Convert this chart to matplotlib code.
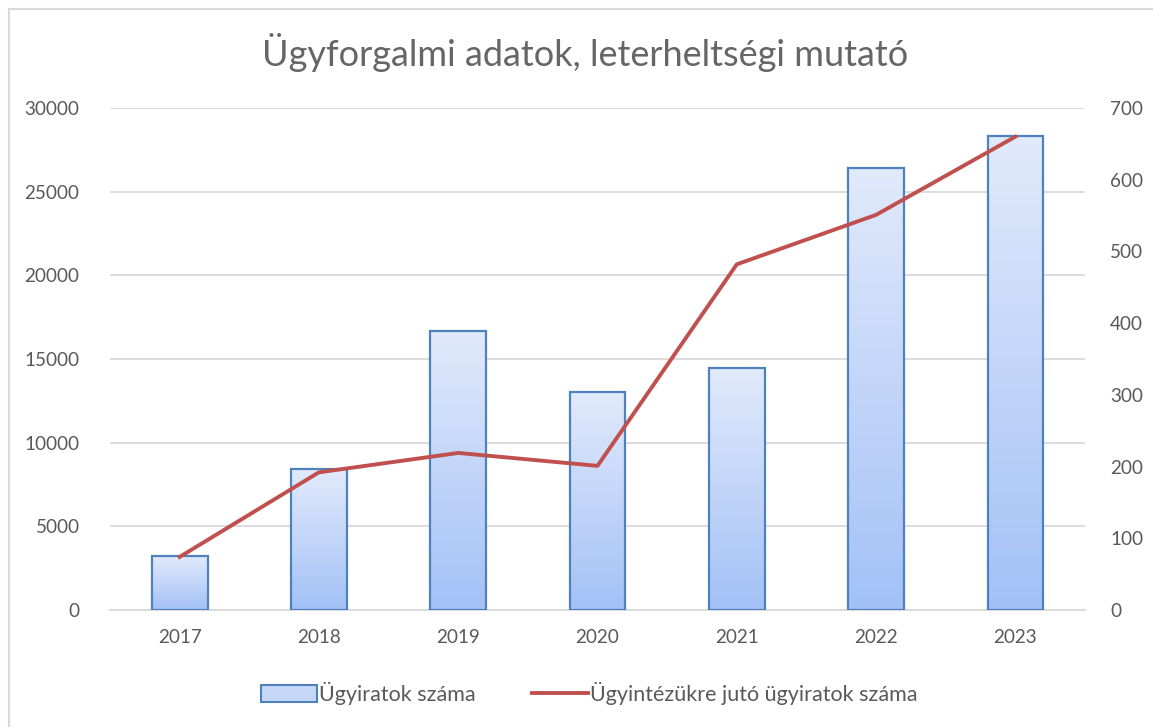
import matplotlib
matplotlib.use("Agg")
import matplotlib.pyplot as plt
import numpy as np
from matplotlib.patches import Rectangle
from matplotlib.lines import Line2D
from matplotlib.colors import LinearSegmentedColormap

years = ["2017", "2018", "2019", "2020", "2021", "2022", "2023"]
ugyiratok = [3200, 8400, 16650, 13000, 14450, 26400, 28300]
per_ugyintezo = [74, 192, 219, 201, 482, 551, 660]
left_ticks = [0, 5000, 10000, 15000, 20000, 25000, 30000]
right_ticks = [0, 100, 200, 300, 400, 500, 600, 700]

plt.rcParams['font.family'] = ['Lato', 'DejaVu Sans']
W, H = 1153, 727
fig = plt.figure(figsize=(W / 100, H / 100), dpi=100)
fig.patch.set_facecolor("white")

# chart border
fig.add_artist(Rectangle((9 / W, -0.1), 1.2, 1 - 9 / H + 0.1, transform=fig.transFigure,
                         fill=False, edgecolor="#d9d9d9", linewidth=1.5))

ax = fig.add_axes([110 / W, 1 - 610 / H, (1085 - 110) / W, (610 - 108) / H])
ax2 = ax.twinx()
ax.set_zorder(1)
ax2.set_zorder(2)
ax.patch.set_visible(False)
ax2.patch.set_visible(False)

x = np.arange(len(years))
bw = 0.4
cmap = LinearSegmentedColormap.from_list("g", ["#a3c1f7", "#e1eafb"])
grad = np.linspace(0, 1, 256).reshape(-1, 1)
for xi, v in zip(x, ugyiratok):
    ax.imshow(grad, extent=(xi - bw / 2, xi + bw / 2, 0, v), origin="lower",
              cmap=cmap, aspect="auto", zorder=2)
    ax.add_patch(Rectangle((xi - bw / 2, 0), bw, v, fill=False,
                           edgecolor="#4f81bd", linewidth=1.6, zorder=3))

ax.set_xlim(-0.5, len(years) - 0.5)
ax.set_ylim(0, 30000)
ax.set_yticks(left_ticks)
ax.set_xticks(x)
ax.set_xticklabels(years)
ax.grid(axis="y", color="#d9d9d9", linewidth=1.3, zorder=0)
ax.set_axisbelow(True)
for s in ax.spines.values():
    s.set_visible(False)
ax.spines["bottom"].set_visible(True)
ax.spines["bottom"].set_color("#d9d9d9")
ax.spines["bottom"].set_linewidth(1.3)
ax.tick_params(axis="both", length=0, labelsize=13.6, colors="#595959")
ax.tick_params(axis="y", pad=22)
ax.tick_params(axis="x", pad=14)

ax2.plot(x, per_ugyintezo, color="#c0504d", linewidth=2.8, zorder=5,
         solid_joinstyle="round")
ax2.set_ylim(0, 700)
ax2.set_yticks(right_ticks)
for s in ax2.spines.values():
    s.set_visible(False)
ax2.tick_params(axis="y", length=0, labelsize=13.6, colors="#595959", pad=18)

fig.text(585.5 / W, 1 - 52 / H, "Ügyforgalmi adatok, leterheltségi mutató", ha="center",
         va="center", fontsize=26, color="#666666")

handles = [Rectangle((0, 0), 1, 1, facecolor="#c5d8f8", edgecolor="#4f81bd", linewidth=1.5),
           Line2D([0], [0], color="#c0504d", linewidth=2.8)]
fig.legend(handles, ["Ügyiratok száma", "Ügyintézükre jutó ügyiratok száma"],
           loc="center", bbox_to_anchor=(589.5 / W, 1 - 693 / H), ncol=2, frameon=False,
           fontsize=15.5, labelcolor="#595959", handlelength=2.6, handletextpad=0.1,
           columnspacing=2.6, handleheight=0.85)

fig.savefig("out.png", dpi=100, facecolor="white")
